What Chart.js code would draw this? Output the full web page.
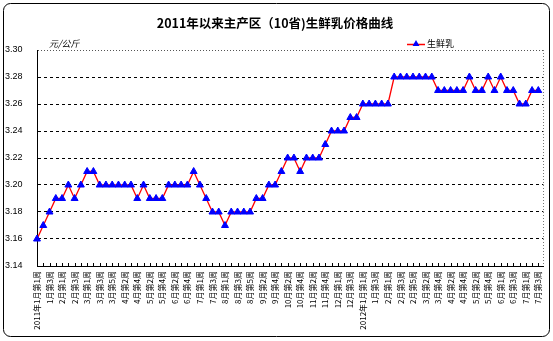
<!DOCTYPE html>
<html>
<head>
<meta charset="utf-8">
<script src="https://cdn.jsdelivr.net/npm/chart.js@4/dist/chart.umd.min.js"></script>
<style>
  html, body { margin: 0; padding: 0; background: #fff; }
  #wrap { width: 553px; height: 341px; }
</style>
</head>
<body>
<div id="wrap"><canvas id="c" width="553" height="341"></canvas></div>
<script>
// Weekly categories, 2011 week 1 through 2012 July week 3
const weekLabels = [
  '2011年1月第1周','1月第2周','1月第3周','1月第4周',
  '2月第1周','2月第2周','2月第3周','2月第4周',
  '3月第1周','3月第2周','3月第3周','3月第4周','3月第5周',
  '4月第1周','4月第2周','4月第3周','4月第4周',
  '5月第1周','5月第2周','5月第3周','5月第4周',
  '6月第1周','6月第2周','6月第3周','6月第4周','6月第5周',
  '7月第1周','7月第2周','7月第3周','7月第4周',
  '8月第1周','8月第2周','8月第3周','8月第4周','8月第5周',
  '9月第1周','9月第2周','9月第3周','9月第4周',
  '10月第1周','10月第2周','10月第3周','10月第4周',
  '11月第1周','11月第2周','11月第3周','11月第4周','11月第5周',
  '12月第1周','12月第2周','12月第3周','12月第4周',
  '2012年1月第1周','1月第2周','1月第3周','1月第4周',
  '2月第1周','2月第2周','2月第3周','2月第4周','2月第5周',
  '3月第1周','3月第2周','3月第3周','3月第4周',
  '4月第1周','4月第2周','4月第3周','4月第4周',
  '5月第1周','5月第2周','5月第3周','5月第4周','5月第5周',
  '6月第1周','6月第2周','6月第3周','6月第4周',
  '7月第1周','7月第2周','7月第3周'
];

// Raw milk price, yuan per kg
const milkPrice = [
  3.16,3.17,3.18,3.19,3.19,3.20,3.19,3.20,3.21,3.21,
  3.20,3.20,3.20,3.20,3.20,3.20,3.19,3.20,3.19,3.19,
  3.19,3.20,3.20,3.20,3.20,3.21,3.20,3.19,3.18,3.18,
  3.17,3.18,3.18,3.18,3.18,3.19,3.19,3.20,3.20,3.21,
  3.22,3.22,3.21,3.22,3.22,3.22,3.23,3.24,3.24,3.24,
  3.25,3.25,3.26,3.26,3.26,3.26,3.26,3.28,3.28,3.28,
  3.28,3.28,3.28,3.28,3.27,3.27,3.27,3.27,3.27,3.28,
  3.27,3.27,3.28,3.27,3.28,3.27,3.27,3.26,3.26,3.27,
  3.27
];

const seriesName = '生鲜乳';
const chartTitle = '2011年以来主产区（10省)生鲜乳价格曲线';
const unitText = '元/公斤';

const LINE_RED = '#ff0000';
const MARK_BLUE = '#0000ff';
const CJK = '"Noto Sans CJK SC", "Noto Sans", sans-serif';

// Outer rounded frame and white background
const framePlugin = {
  id: 'frame',
  beforeDraw(chart) {
    const ctx = chart.ctx;
    ctx.save();
    ctx.fillStyle = '#fff';
    ctx.fillRect(0, 0, chart.width, chart.height);
    ctx.beginPath();
    ctx.roundRect(3.5, 3.5, chart.width - 7, chart.height - 8, 7);
    ctx.strokeStyle = '#000';
    ctx.lineWidth = 1;
    ctx.stroke();
    ctx.restore();
  }
};

// Dotted right edge of the plot, small inward ticks on the category axis
const plotDecor = {
  id: 'plotDecor',
  beforeDatasetsDraw(chart) {
    const {ctx, chartArea: a, scales: {x}} = chart;
    ctx.save();
    ctx.strokeStyle = '#777';
    ctx.lineWidth = 1;
    ctx.setLineDash([1, 2]);
    ctx.beginPath();
    ctx.moveTo(Math.round(a.right) + 0.5, a.top);
    ctx.lineTo(Math.round(a.right) + 0.5, a.bottom);
    ctx.stroke();
    ctx.setLineDash([]);
    ctx.strokeStyle = '#000';
    ctx.beginPath();
    x.ticks.forEach(t => {
      const px = Math.round(x.getPixelForValue(t.value)) + 0.5;
      ctx.moveTo(px, a.bottom);
      ctx.lineTo(px, a.bottom - 3);
    });
    ctx.stroke();
    ctx.restore();
  },
  afterDraw(chart) {
    const {ctx} = chart;
    ctx.save();
    // unit label above the value axis
    ctx.fillStyle = '#000';
    ctx.font = 'italic 9px ' + CJK;
    ctx.textBaseline = 'middle';
    ctx.textAlign = 'left';
    ctx.fillText(unitText, 49, 44);
    // legend: line sample with marker, then series name
    const ds = chart.data.datasets[0];
    ctx.strokeStyle = ds.borderColor;
    ctx.lineWidth = 1.5;
    ctx.beginPath();
    ctx.moveTo(407, 44.5);
    ctx.lineTo(425, 44.5);
    ctx.stroke();
    ctx.fillStyle = ds.pointBackgroundColor;
    ctx.strokeStyle = ds.pointBorderColor;
    ctx.lineWidth = 1;
    Chart.helpers.drawPoint(ctx, {pointStyle: 'triangle', radius: 4, rotation: 0}, 416, 44);
    ctx.fillStyle = '#000';
    ctx.font = '9px ' + CJK;
    ctx.fillText(ds.label, 427, 44);
    ctx.restore();
  }
};

new Chart(document.getElementById('c'), {
  type: 'line',
  data: {
    datasets: [{
      label: seriesName,
      data: milkPrice.map((v, i) => ({x: i, y: v})),
      borderColor: LINE_RED,
      borderWidth: 1.3,
      tension: 0,
      pointStyle: 'triangle',
      pointRadius: 4,
      pointBackgroundColor: MARK_BLUE,
      pointBorderColor: MARK_BLUE,
      pointBorderWidth: 1,
      clip: false
    }]
  },
  options: {
    responsive: false,
    animation: false,
    events: [],
    layout: { padding: { left: 5, right: 8, top: 0, bottom: 0 } },
    plugins: {
      legend: { display: false },
      tooltip: { enabled: false },
      title: {
        display: true,
        text: chartTitle,
        color: '#000',
        font: { family: CJK, size: 12.5, weight: 'bold', lineHeight: 1.2 },
        padding: { top: 15.5, bottom: 19.5 }
      }
    },
    scales: {
      x: {
        type: 'linear',
        min: 0,
        max: 80.8,
        afterBuildTicks(scale) {
          scale.ticks = weekLabels.map((_, i) => ({ value: i }));
        },
        afterFit(scale) { scale.height = 75; },
        grid: { display: false, drawTicks: false },
        border: { display: true, color: '#000', width: 1 },
        ticks: {
          autoSkip: false,
          maxRotation: 90,
          minRotation: 90,
          padding: 5,
          color: '#000',
          font: { family: CJK, size: 8 },
          callback: (v) => (v % 2 === 0 ? weekLabels[v] : '')
        }
      },
      y: {
        min: 3.14,
        max: 3.30,
        afterFit(scale) { scale.width = 32; },
        grid: {
          drawTicks: false,
          color: (c) => (c.index === 0 ? 'rgba(0,0,0,0)' : (c.index === 8 ? '#555' : '#000')),
          lineWidth: 1
        },
        border: {
          display: true,
          color: '#000',
          width: 1,
          dash: (c) => (c.index === 8 ? [1, 2] : [3, 3])
        },
        ticks: {
          stepSize: 0.02,
          crossAlign: 'far',
          padding: 0,
          color: '#000',
          font: { family: '"Liberation Sans", sans-serif', size: 9 },
          callback: (v) => Number(v).toFixed(2)
        }
      }
    }
  },
  plugins: [framePlugin, plotDecor]
});
</script>
</body>
</html>
